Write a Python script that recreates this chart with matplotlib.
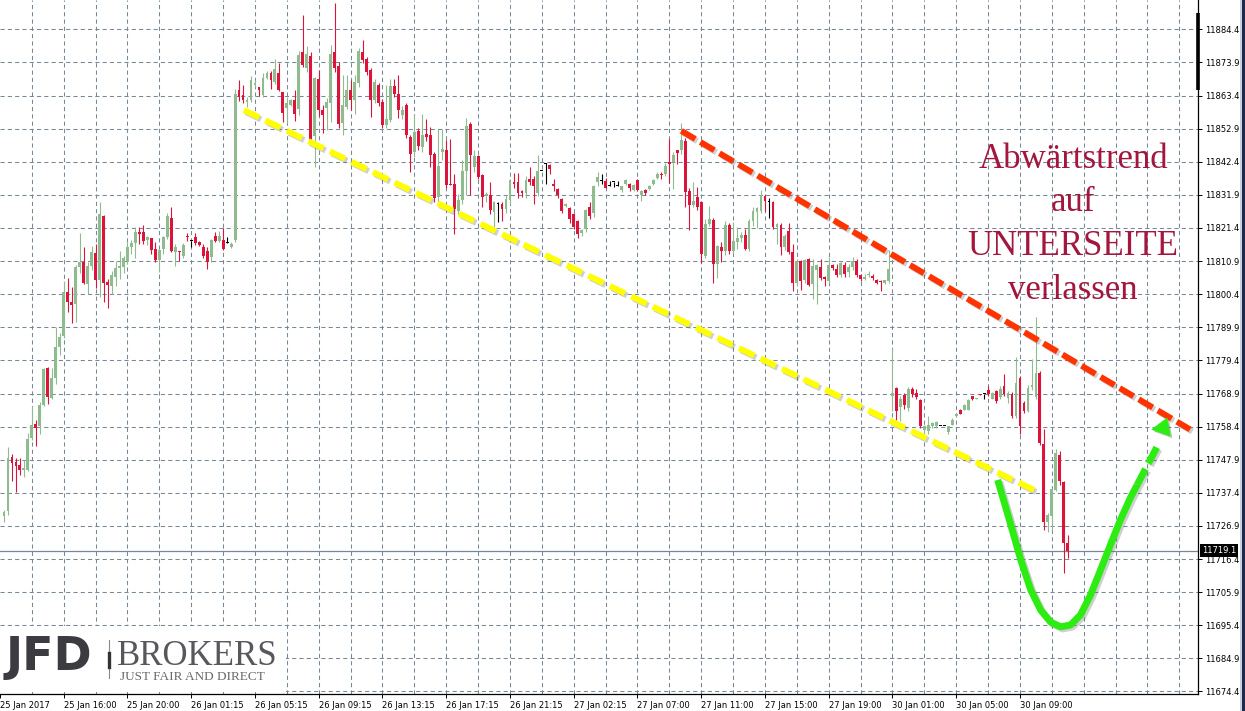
import matplotlib.pyplot as plt
import matplotlib.patheffects as pe
from matplotlib.patches import Rectangle, Polygon
from matplotlib.lines import Line2D
import numpy as np

# M15 candles, bar index starts at -1 (partly cut at the left edge)
first_bar = -1
opens = [
    11730.0, 11731.7, 11748.9, 11747.2, 11746.3, 11744.7, 11744.5, 11754.9, 11759.3, 11758.6,
    11765.3, 11777.0, 11767.6, 11773.9, 11783.7, 11787.1, 11801.2, 11797.8, 11797.4, 11808.9,
    11810.5, 11803.6, 11809.4, 11813.4, 11804.9, 11825.3, 11804.3, 11803.1, 11806.0, 11808.6,
    11809.0, 11811.0, 11815.5, 11816.5, 11820.2, 11820.2, 11817.6, 11818.1, 11814.7, 11811.3,
    11814.7, 11818.6, 11824.6, 11813.7, 11814.0, 11812.4, 11818.9, 11817.3, 11818.6, 11817.1,
    11815.3, 11814.2, 11812.1, 11819.0, 11817.4, 11817.6, 11816.5, 11815.3, 11817.7, 11865.3,
    11863.7, 11861.4, 11862.1, 11866.8, 11866.0, 11863.7, 11869.1, 11870.6, 11867.8, 11870.4,
    11864.6, 11859.3, 11860.4, 11862.0, 11859.0, 11877.3, 11872.0, 11875.9, 11850.5, 11868.5,
    11858.7, 11859.3, 11861.1, 11877.3, 11872.7, 11854.7, 11859.7, 11865.3, 11862.1, 11867.4,
    11877.3, 11875.0, 11871.5, 11861.9, 11866.7, 11861.4, 11854.1, 11855.6, 11866.4, 11863.8,
    11857.3, 11860.3, 11850.2, 11845.5, 11852.0, 11847.1, 11851.3, 11850.8, 11844.9, 11831.1,
    11845.5, 11846.0, 11835.4, 11835.2, 11826.9, 11830.3, 11839.4, 11854.3, 11840.6, 11844.1,
    11838.1, 11831.4, 11832.0, 11826.4, 11828.9, 11828.9, 11827.5, 11830.3, 11836.1, 11835.9,
    11833.2, 11832.4, 11837.0, 11837.0, 11832.6, 11839.4, 11841.8, 11841.4, 11835.2, 11833.7,
    11830.6, 11828.4, 11827.6, 11825.7, 11823.6, 11819.7, 11821.1, 11828.0, 11826.1, 11835.9,
    11836.4, 11836.2, 11834.6, 11835.9, 11834.6, 11833.5, 11835.4, 11835.4, 11833.5, 11836.5,
    11831.9, 11833.3, 11833.9, 11835.4, 11837.3, 11838.6, 11838.4, 11842.3, 11842.3, 11846.2,
    11846.2, 11849.0, 11833.1, 11828.8, 11831.2, 11829.6, 11812.6, 11822.7, 11824.0, 11809.9,
    11815.5, 11814.0, 11822.4, 11814.2, 11816.9, 11818.2, 11819.3, 11814.7, 11823.5, 11826.4,
    11826.9, 11831.4, 11829.6, 11829.6, 11821.8, 11822.5, 11815.3, 11820.4, 11813.7, 11804.1,
    11810.8, 11804.8, 11811.5, 11803.6, 11808.1, 11809.1, 11805.8, 11804.7, 11809.7, 11808.4,
    11806.6, 11809.7, 11807.3, 11809.0, 11811.0, 11806.6, 11805.2, 11806.4, 11806.3, 11804.8,
    11804.7, 11804.1, 11804.6, 11768.1, 11770.7, 11764.7, 11768.3, 11764.3, 11770.4, 11769.0,
    11766.8, 11757.2, 11756.9, 11758.5, 11758.7, 11758.5, 11758.5, 11756.6, 11759.0, 11761.7,
    11763.8, 11763.8, 11763.8, 11768.0, 11767.2, 11768.6, 11768.6, 11770.0, 11767.2, 11769.6,
    11767.8, 11771.4, 11767.5, 11768.9, 11761.7, 11773.8, 11765.9, 11763.3, 11771.0, 11767.8,
    11775.3, 11753.0, 11728.0, 11730.1, 11738.4, 11749.5, 11740.7, 11721.4,
]
highs = [
    11731.8, 11752.0, 11749.8, 11748.5, 11748.5, 11747.9, 11756.5, 11764.9, 11760.5, 11766.3,
    11777.1, 11777.2, 11777.0, 11789.9, 11788.2, 11804.6, 11805.4, 11802.7, 11809.5, 11819.7,
    11815.5, 11810.5, 11815.8, 11816.3, 11829.6, 11825.5, 11805.1, 11807.6, 11811.0, 11814.2,
    11812.6, 11817.4, 11817.7, 11821.6, 11821.6, 11822.2, 11819.0, 11818.1, 11816.8, 11814.6,
    11819.0, 11826.0, 11828.0, 11816.3, 11814.0, 11816.5, 11819.7, 11817.4, 11819.7, 11817.4,
    11816.3, 11815.5, 11817.9, 11820.0, 11820.5, 11821.3, 11818.4, 11816.8, 11865.6, 11868.3,
    11866.8, 11862.8, 11869.5, 11868.3, 11866.0, 11870.6, 11871.2, 11871.2, 11874.9, 11873.8,
    11864.6, 11862.9, 11862.4, 11865.2, 11877.6, 11889.0, 11879.1, 11877.3, 11869.3, 11871.6,
    11860.3, 11862.5, 11879.4, 11892.7, 11874.1, 11869.9, 11869.9, 11868.3, 11869.9, 11878.4,
    11881.0, 11875.5, 11872.0, 11868.5, 11867.5, 11862.4, 11866.7, 11868.8, 11868.8, 11869.9,
    11860.0, 11861.0, 11851.0, 11857.7, 11853.0, 11857.7, 11856.1, 11853.4, 11845.5, 11852.9,
    11852.9, 11849.2, 11849.7, 11838.4, 11832.2, 11843.0, 11856.4, 11855.0, 11846.2, 11844.5,
    11838.5, 11832.7, 11835.9, 11829.8, 11829.6, 11829.5, 11831.7, 11837.0, 11838.8, 11838.8,
    11833.5, 11838.0, 11840.7, 11838.0, 11844.6, 11839.4, 11841.9, 11841.8, 11836.9, 11834.0,
    11831.0, 11829.2, 11828.0, 11826.0, 11824.0, 11821.0, 11827.5, 11829.6, 11835.0, 11839.1,
    11838.5, 11837.1, 11836.2, 11835.9, 11836.2, 11834.8, 11837.0, 11835.8, 11835.3, 11837.0,
    11833.5, 11833.8, 11835.0, 11837.0, 11839.0, 11839.1, 11842.0, 11849.7, 11845.5, 11846.2,
    11854.7, 11850.0, 11834.0, 11835.9, 11834.3, 11830.0, 11824.3, 11828.5, 11824.5, 11816.0,
    11816.8, 11823.5, 11823.0, 11823.4, 11821.6, 11820.0, 11821.0, 11824.3, 11828.2, 11828.1,
    11833.3, 11832.0, 11830.8, 11830.0, 11823.0, 11823.0, 11819.5, 11822.9, 11816.3, 11811.6,
    11811.2, 11811.6, 11812.0, 11811.5, 11810.0, 11811.5, 11806.2, 11812.1, 11810.0, 11810.0,
    11811.0, 11810.5, 11810.0, 11812.3, 11811.5, 11806.8, 11806.8, 11807.7, 11806.8, 11805.1,
    11805.0, 11805.0, 11814.4, 11783.4, 11771.0, 11768.0, 11769.0, 11771.0, 11771.0, 11770.4,
    11767.0, 11759.0, 11761.7, 11760.0, 11760.1, 11758.5, 11758.5, 11758.6, 11761.0, 11762.6,
    11764.0, 11765.6, 11767.0, 11768.2, 11767.6, 11768.7, 11768.6, 11771.4, 11769.5, 11770.0,
    11771.2, 11775.0, 11769.6, 11769.5, 11780.6, 11774.5, 11766.5, 11771.5, 11779.7, 11793.3,
    11776.0, 11757.5, 11731.0, 11739.0, 11751.3, 11750.6, 11741.0, 11724.1,
]
lows = [
    11728.0, 11730.5, 11741.2, 11737.8, 11742.9, 11742.3, 11744.3, 11754.2, 11752.1, 11756.1,
    11765.0, 11765.6, 11767.0, 11772.0, 11781.1, 11786.4, 11794.6, 11791.4, 11791.7, 11807.0,
    11803.6, 11800.4, 11808.0, 11802.5, 11799.4, 11797.8, 11796.0, 11800.4, 11803.1, 11805.1,
    11807.0, 11810.0, 11813.1, 11811.8, 11816.3, 11816.3, 11816.0, 11813.1, 11810.5, 11807.3,
    11813.0, 11818.0, 11813.7, 11809.2, 11811.0, 11812.0, 11817.4, 11815.5, 11816.0, 11815.8,
    11812.0, 11808.4, 11810.5, 11817.0, 11817.0, 11814.4, 11816.5, 11814.9, 11817.0, 11861.6,
    11861.0, 11859.8, 11861.4, 11866.2, 11863.2, 11863.0, 11868.5, 11865.6, 11867.0, 11864.9,
    11855.0, 11854.7, 11860.0, 11855.3, 11857.2, 11872.5, 11871.0, 11848.0, 11840.7, 11857.0,
    11851.5, 11852.4, 11855.0, 11871.0, 11853.0, 11850.8, 11859.0, 11858.9, 11857.7, 11866.0,
    11873.6, 11870.0, 11856.6, 11861.0, 11860.0, 11853.0, 11853.0, 11855.0, 11863.0, 11856.4,
    11856.0, 11850.0, 11839.3, 11844.0, 11846.0, 11845.5, 11849.0, 11840.7, 11829.6, 11829.0,
    11843.0, 11834.0, 11834.9, 11819.5, 11825.9, 11829.0, 11832.0, 11832.0, 11839.0, 11837.0,
    11828.1, 11829.6, 11825.9, 11819.8, 11823.3, 11823.7, 11826.0, 11829.0, 11834.0, 11831.0,
    11831.2, 11831.0, 11835.0, 11829.0, 11831.6, 11839.4, 11835.4, 11838.4, 11833.2, 11831.0,
    11826.0, 11828.0, 11823.0, 11821.0, 11818.3, 11819.0, 11820.0, 11824.3, 11825.0, 11834.6,
    11835.3, 11834.0, 11834.6, 11834.5, 11834.6, 11832.8, 11835.0, 11833.0, 11833.0, 11833.0,
    11829.9, 11831.7, 11833.5, 11835.0, 11837.0, 11837.0, 11838.0, 11835.6, 11833.8, 11841.8,
    11845.0, 11828.2, 11820.6, 11828.0, 11827.0, 11810.2, 11812.0, 11822.0, 11804.1, 11805.5,
    11810.5, 11812.9, 11813.1, 11813.6, 11814.7, 11817.0, 11814.5, 11814.0, 11822.0, 11821.4,
    11826.0, 11826.9, 11824.6, 11821.0, 11816.3, 11812.9, 11814.5, 11813.0, 11801.3, 11803.0,
    11801.6, 11804.0, 11803.0, 11798.8, 11797.2, 11805.0, 11803.1, 11804.0, 11808.0, 11806.0,
    11806.0, 11806.0, 11806.0, 11808.0, 11806.0, 11804.5, 11805.0, 11805.8, 11805.0, 11803.5,
    11801.5, 11803.5, 11804.0, 11763.3, 11760.6, 11760.1, 11764.0, 11763.5, 11767.8, 11767.0,
    11758.0, 11756.0, 11756.0, 11758.0, 11758.0, 11758.5, 11758.5, 11756.0, 11758.8, 11761.5,
    11762.3, 11763.6, 11763.6, 11766.8, 11767.0, 11768.3, 11767.2, 11768.0, 11767.0, 11766.0,
    11767.0, 11768.0, 11765.9, 11761.0, 11761.0, 11756.2, 11762.8, 11763.0, 11770.0, 11767.0,
    11752.5, 11725.6, 11725.1, 11725.6, 11738.0, 11740.0, 11712.1, 11716.6,
]
closes = [
    11731.2, 11748.5, 11747.0, 11745.8, 11744.5, 11745.2, 11754.5, 11758.9, 11758.1, 11765.3,
    11776.7, 11767.9, 11773.9, 11783.7, 11786.9, 11801.0, 11797.8, 11797.0, 11808.9, 11810.5,
    11804.0, 11809.4, 11813.7, 11804.9, 11825.7, 11804.1, 11803.4, 11806.6, 11808.6, 11809.4,
    11811.8, 11815.5, 11816.5, 11820.2, 11819.5, 11817.4, 11818.6, 11814.4, 11811.3, 11814.4,
    11818.6, 11825.3, 11814.2, 11815.3, 11813.7, 11816.1, 11818.4, 11817.3, 11816.5, 11816.1,
    11812.6, 11810.5, 11817.6, 11817.4, 11819.0, 11814.7, 11816.5, 11816.3, 11864.0, 11862.8,
    11861.9, 11861.9, 11868.3, 11867.3, 11865.3, 11869.1, 11870.6, 11868.3, 11871.8, 11865.3,
    11857.9, 11860.9, 11862.0, 11857.7, 11876.2, 11873.1, 11876.6, 11849.2, 11869.1, 11858.9,
    11857.1, 11861.4, 11876.6, 11872.2, 11854.5, 11860.3, 11865.2, 11862.1, 11867.7, 11877.6,
    11874.6, 11870.9, 11862.1, 11867.7, 11861.1, 11853.9, 11856.1, 11866.4, 11863.8, 11858.7,
    11858.7, 11850.8, 11844.8, 11851.8, 11847.3, 11851.0, 11850.2, 11844.4, 11830.9, 11841.2,
    11846.5, 11834.9, 11835.0, 11827.5, 11830.3, 11839.4, 11853.6, 11844.4, 11844.1, 11837.5,
    11831.2, 11832.2, 11827.2, 11829.6, 11828.9, 11827.5, 11830.6, 11836.5, 11835.2, 11832.4,
    11832.4, 11836.5, 11835.9, 11834.6, 11839.4, 11839.4, 11841.8, 11840.0, 11834.6, 11831.7,
    11826.9, 11828.9, 11824.3, 11821.7, 11819.5, 11820.6, 11827.1, 11825.3, 11834.6, 11837.7,
    11836.4, 11834.2, 11834.6, 11835.9, 11834.6, 11834.6, 11836.7, 11834.1, 11834.9, 11833.3,
    11833.1, 11832.4, 11834.6, 11836.5, 11838.6, 11838.2, 11840.9, 11841.6, 11844.4, 11845.1,
    11849.2, 11832.8, 11828.8, 11829.8, 11828.0, 11813.1, 11822.7, 11824.3, 11809.9, 11815.8,
    11814.0, 11822.5, 11814.2, 11817.4, 11818.2, 11819.3, 11814.7, 11823.7, 11826.7, 11827.8,
    11832.0, 11829.9, 11829.6, 11821.6, 11822.8, 11815.3, 11819.0, 11813.7, 11804.1, 11811.0,
    11804.6, 11811.2, 11803.4, 11809.4, 11809.7, 11805.5, 11805.2, 11809.7, 11808.6, 11806.6,
    11810.2, 11806.8, 11809.1, 11811.0, 11806.6, 11805.2, 11805.9, 11806.6, 11805.5, 11804.1,
    11804.3, 11804.8, 11808.3, 11769.1, 11763.3, 11767.0, 11765.4, 11770.4, 11768.9, 11767.8,
    11758.5, 11758.5, 11759.0, 11759.6, 11759.8, 11758.5, 11758.5, 11758.5, 11760.6, 11762.4,
    11762.5, 11765.4, 11766.8, 11767.0, 11767.4, 11768.4, 11768.6, 11768.9, 11769.1, 11766.5,
    11770.2, 11768.9, 11769.1, 11761.7, 11772.3, 11758.7, 11763.3, 11770.7, 11771.5, 11775.5,
    11753.2, 11728.3, 11730.4, 11738.6, 11750.0, 11741.0, 11721.4, 11719.1,
]

tick_bars = [-2, 14, 30, 46, 62, 78, 94, 110, 126, 142, 158, 174, 190, 206, 222, 238, 254]
tick_labels = ["25 Jan 2017", "25 Jan 16:00", "25 Jan 20:00", "26 Jan 01:15", "26 Jan 05:15",
               "26 Jan 09:15", "26 Jan 13:15", "26 Jan 17:15", "26 Jan 21:15", "27 Jan 02:15",
               "27 Jan 07:00", "27 Jan 11:00", "27 Jan 15:00", "27 Jan 19:00", "30 Jan 01:00",
               "30 Jan 05:00", "30 Jan 09:00"]
price_ticks = [11674.4, 11684.9, 11695.4, 11705.9, 11716.4, 11726.9, 11737.4, 11747.9,
               11758.4, 11768.9, 11779.4, 11789.9, 11800.4, 11810.9, 11821.4, 11831.9,
               11842.4, 11852.9, 11863.4, 11873.9, 11884.4]
last_price = 11719.1

# hand drawn analysis (bar index, price)
support_line = [(59.2, 11858.8), (258.35, 11737.8)]
resistance_line = [(169.0, 11852.2), (296.7, 11757.5)]
bounce_curve = [(248.4, 11741.5), (251.7, 11727.2), (254.2, 11716.1), (256.7, 11706.6),
                (259.2, 11700.2), (261.7, 11696.4), (264.2, 11694.9), (266.7, 11695.5),
                (269.2, 11698.7), (271.7, 11705.0), (274.2, 11712.9), (276.7, 11720.9),
                (279.2, 11728.8), (281.7, 11735.8), (283.4, 11739.9)]
bounce_arrow = [(283.4, 11739.9), (288.9, 11753.2)]
arrow_head = [(290.9, 11761.1), (287.1, 11757.5), (291.7, 11755.4)]

BULL = '#8fbc8f'
BEAR = '#dc143c'
GRID = '#778899'
LIME = '#2cec12'

fig = plt.figure(figsize=(12.45, 7.11), dpi=100)
ax = fig.add_axes([0, 17 / 711, 1198.3 / 1245, 694 / 711])
ax.set_xlim(-0.83, 298.75)
ax.set_ylim(11673.6, 11893.7)

# grid
for p in price_ticks:
    ax.axhline(p, color=GRID, lw=0.75, ls=(0, (4, 3)), zorder=0)
for b in range(6, 299, 8):
    ax.axvline(b, color=GRID, lw=0.75, ls=(0, (4, 3)), zorder=0)

# candles
x = np.arange(first_bar, first_bar + len(opens))
o = np.array(opens)
h = np.array(highs)
l = np.array(lows)
c = np.array(closes)
cols = np.where(c > o, BULL, np.where(c < o, BEAR, 'black'))
ax.vlines(x, l, h, colors=cols, lw=0.8, zorder=2)
body_low = np.minimum(o, c)
body_h = np.maximum(np.abs(c - o), 0.35)
ax.bar(x, body_h, 0.72, bottom=body_low, color=cols, linewidth=0, zorder=3)

# current price line + label
ax.axhline(last_price, color=GRID, lw=0.9, zorder=1)
ax.annotate(f'{last_price:.1f}', xy=(1, last_price), xycoords=ax.get_yaxis_transform(),
            xytext=(2.5, 0), textcoords='offset points', ha='left', va='center',
            fontsize=6, color='white', annotation_clip=False, zorder=10,
            bbox=dict(boxstyle='square,pad=0.2', fc='black', ec='none'))
ax.plot([1, 1], [11865.2, 11889.5], transform=ax.get_yaxis_transform(), color='black',
        lw=2.6, solid_capstyle='butt', clip_on=False, zorder=10)

# axes styling
for s in ['left', 'top']:
    ax.spines[s].set_visible(False)
for s in ['right', 'bottom']:
    ax.spines[s].set_color('black')
    ax.spines[s].set_linewidth(0.9)
ax.yaxis.tick_right()
ax.set_yticks(price_ticks)
ax.set_yticklabels([f'{p:.1f}' for p in price_ticks])
ax.set_xticks(tick_bars)
ax.set_xticklabels(tick_labels, ha='left')
ax.tick_params(axis='y', length=3, width=0.7, labelsize=6, pad=2)
ax.tick_params(axis='x', length=3, width=0.7, labelsize=6, pad=2)

# trend lines
shadow = [pe.SimpleLineShadow(offset=(1.5, -1.5), shadow_color='#606060', alpha=0.3), pe.Normal()]
sx, sy = zip(*support_line)
ax.plot(sx, sy, color='#ffff00', lw=4.3, ls=(0, (2.8, 1.2)), dash_capstyle='butt',
        path_effects=shadow, zorder=5)
rx, ry = zip(*resistance_line)
ax.plot(rx, ry, color='#ff3300', lw=4.3, ls=(0, (2.7, 1.0)), dash_capstyle='butt',
        path_effects=shadow, zorder=5)
bx, by = zip(*bounce_curve)
ax.plot(bx, by, color=LIME, lw=5.0, solid_capstyle='butt', solid_joinstyle='round',
        path_effects=shadow, zorder=5)
ax_, ay_ = zip(*bounce_arrow)
ax.plot(ax_, ay_, color=LIME, lw=5.0, ls=(0, (2.6, 0.9)), dash_capstyle='butt',
        path_effects=shadow, zorder=5)
ax.add_patch(Polygon(arrow_head, closed=True, fc=LIME, ec=LIME, lw=0.5, zorder=5,
                     path_effects=[pe.SimplePatchShadow(offset=(1.5, -1.5), alpha=0.3), pe.Normal()]))

# comment text
msg_color = '#a3173f'
for line, y in zip(['Abwärtstrend', 'auf', 'UNTERSEITE', 'verlassen'], [168, 211, 255, 299]):
    fig.text(1073 / 1245, 1 - y / 711, line, ha='center', va='baseline', fontsize=25,
             family='Liberation Serif', color=msg_color)

# logo
ax.add_patch(Rectangle((0, (711 - 692) / 711), 286 / 1245, 66 / 711, transform=fig.transFigure,
                       fc='white', ec='none', zorder=8, clip_on=False))
fig.text(6 / 1245, 1 - 670 / 711, 'JFD', fontsize=33, weight='bold', family='DejaVu Sans',
         color='#3c3c40', va='baseline', zorder=9)
fig.add_artist(Line2D([109 / 1245] * 2, [1 - 640 / 711, 1 - 678 / 711], color='#8a8a8a',
                      lw=0.8, transform=fig.transFigure))
fig.add_artist(Line2D([109 / 1245] * 2, [1 - 653 / 711, 1 - 667 / 711], color='#333333',
                      lw=2.4, transform=fig.transFigure))
fig.text(117 / 1245, 1 - 665 / 711, 'BROKERS', fontsize=25, family='Liberation Serif',
         color='#58585c', va='baseline', zorder=9)
fig.text(120 / 1245, 1 - 680 / 711, 'JUST FAIR AND DIRECT', fontsize=9.5,
         family='Liberation Serif', color='#6a6a6a', va='baseline', zorder=9)

# window frame on the right
fig.add_artist(Rectangle((1240 / 1245, 0), 1.5 / 1245, 1, transform=fig.transFigure,
                         fc='#c9d3de', ec='none'))
fig.add_artist(Rectangle((1242 / 1245, 0), 3 / 1245, 1, transform=fig.transFigure,
                         fc='#1d2b4d', ec='none'))

fig.savefig('out.png', dpi=100)
